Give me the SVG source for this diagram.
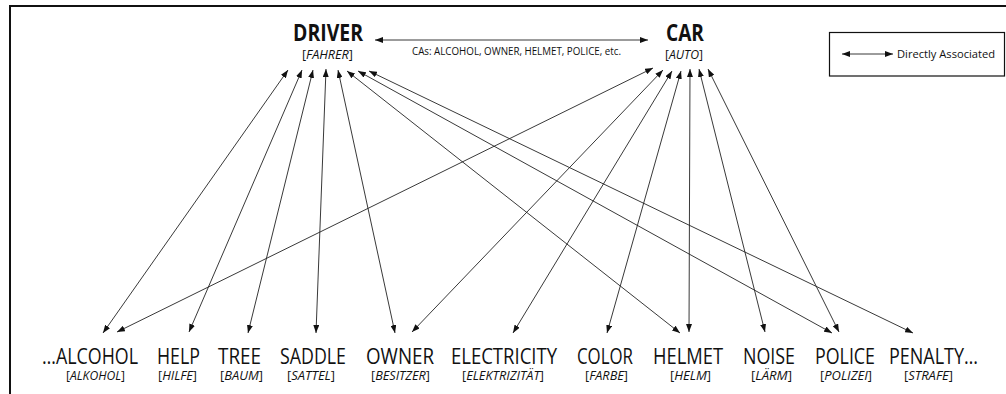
<svg xmlns="http://www.w3.org/2000/svg" width="1006" height="394" viewBox="0 0 1006 394">
<defs>
<marker id="ah" viewBox="0 0 8 6" refX="8" refY="3" markerWidth="8" markerHeight="6" markerUnits="userSpaceOnUse" orient="auto-start-reverse">
<path d="M0,0 L8,3 L0,6 z" fill="#111"/>
</marker>
</defs>
<style>
text{font-family:"Open Sans","Noto Sans","Liberation Sans",sans-serif;fill:#111}
.big{font-size:22px}
.head{font-size:23px;font-weight:bold}
.sub{font-size:12.5px}
.sm{font-size:10px}
.leg{font-size:11px}
.it{font-style:italic}
.c line{stroke:#222;stroke-width:0.9;marker-start:url(#ah);marker-end:url(#ah)}
.frame{stroke:#111;stroke-width:2;fill:none}
</style>
<rect width="1006" height="394" fill="#fff"/>
<path class="frame" d="M10,394 V6 H1006"/>
<g id="legend">
<rect x="829.5" y="32.5" width="175" height="43.5" fill="none" stroke="#111" stroke-width="1.2"/>
<line x1="842" y1="54" x2="893" y2="54" stroke="#222" stroke-width="0.9" marker-start="url(#ah)" marker-end="url(#ah)"/>
<text class="leg" x="897" y="58" textLength="98" lengthAdjust="spacingAndGlyphs">Directly Associated</text>
</g>
<g id="connectors" class="c">
<line x1="375" y1="40" x2="648" y2="40"/>
<line x1="288" y1="70" x2="103" y2="333"/>
<line x1="302" y1="70" x2="189" y2="332"/>
<line x1="313" y1="70" x2="248" y2="333"/>
<line x1="326" y1="69" x2="316" y2="333"/>
<line x1="338" y1="70" x2="395" y2="333"/>
<line x1="347" y1="71" x2="680" y2="333"/>
<line x1="358" y1="71" x2="832" y2="333"/>
<line x1="369" y1="71" x2="913" y2="333"/>
<line x1="653" y1="68" x2="117" y2="332"/>
<line x1="663" y1="70" x2="412" y2="332"/>
<line x1="672" y1="71" x2="513" y2="333"/>
<line x1="681" y1="71" x2="607" y2="333"/>
<line x1="690" y1="69" x2="689" y2="332"/>
<line x1="699" y1="69" x2="765" y2="332"/>
<line x1="708" y1="69" x2="839" y2="332"/>
</g>
<text class="sm" x="412" y="55" textLength="209" lengthAdjust="spacingAndGlyphs">CAs: ALCOHOL, OWNER, HELMET, POLICE, etc.</text>
<g id="driver">
<text class="head" x="293" y="41" textLength="70" lengthAdjust="spacingAndGlyphs">DRIVER</text>
<text class="sub" x="302" y="59" textLength="51" lengthAdjust="spacingAndGlyphs">[<tspan class="it">FAHRER</tspan>]</text>
</g>
<g id="car">
<text class="head" x="666" y="41" textLength="38" lengthAdjust="spacingAndGlyphs">CAR</text>
<text class="sub" x="665" y="59" textLength="38" lengthAdjust="spacingAndGlyphs">[<tspan class="it">AUTO</tspan>]</text>
</g>
<g id="alcohol">
<text class="big" x="42" y="364" textLength="96" lengthAdjust="spacingAndGlyphs">…ALCOHOL</text>
<text class="sub" x="66" y="380" textLength="59" lengthAdjust="spacingAndGlyphs">[<tspan class="it">ALKOHOL</tspan>]</text>
</g>
<g id="help">
<text class="big" x="157" y="364" textLength="43" lengthAdjust="spacingAndGlyphs">HELP</text>
<text class="sub" x="158" y="380" textLength="39" lengthAdjust="spacingAndGlyphs">[<tspan class="it">HILFE</tspan>]</text>
</g>
<g id="tree">
<text class="big" x="218" y="364" textLength="43" lengthAdjust="spacingAndGlyphs">TREE</text>
<text class="sub" x="220" y="380" textLength="43" lengthAdjust="spacingAndGlyphs">[<tspan class="it">BAUM</tspan>]</text>
</g>
<g id="saddle">
<text class="big" x="280" y="364" textLength="66" lengthAdjust="spacingAndGlyphs">SADDLE</text>
<text class="sub" x="287" y="380" textLength="48" lengthAdjust="spacingAndGlyphs">[<tspan class="it">SATTEL</tspan>]</text>
</g>
<g id="owner">
<text class="big" x="366" y="364" textLength="68" lengthAdjust="spacingAndGlyphs">OWNER</text>
<text class="sub" x="371" y="380" textLength="59" lengthAdjust="spacingAndGlyphs">[<tspan class="it">BESITZER</tspan>]</text>
</g>
<g id="electricity">
<text class="big" x="451" y="364" textLength="106" lengthAdjust="spacingAndGlyphs">ELECTRICITY</text>
<text class="sub" x="462" y="380" textLength="82" lengthAdjust="spacingAndGlyphs">[<tspan class="it">ELEKTRIZITÄT</tspan>]</text>
</g>
<g id="color">
<text class="big" x="577" y="364" textLength="56" lengthAdjust="spacingAndGlyphs">COLOR</text>
<text class="sub" x="585" y="380" textLength="43" lengthAdjust="spacingAndGlyphs">[<tspan class="it">FARBE</tspan>]</text>
</g>
<g id="helmet">
<text class="big" x="653" y="364" textLength="70" lengthAdjust="spacingAndGlyphs">HELMET</text>
<text class="sub" x="670" y="380" textLength="41" lengthAdjust="spacingAndGlyphs">[<tspan class="it">HELM</tspan>]</text>
</g>
<g id="noise">
<text class="big" x="743" y="364" textLength="52" lengthAdjust="spacingAndGlyphs">NOISE</text>
<text class="sub" x="751" y="380" textLength="41" lengthAdjust="spacingAndGlyphs">[<tspan class="it">LÄRM</tspan>]</text>
</g>
<g id="police">
<text class="big" x="815" y="364" textLength="60" lengthAdjust="spacingAndGlyphs">POLICE</text>
<text class="sub" x="820" y="380" textLength="52" lengthAdjust="spacingAndGlyphs">[<tspan class="it">POLIZEI</tspan>]</text>
</g>
<g id="penalty">
<text class="big" x="889" y="364" textLength="89" lengthAdjust="spacingAndGlyphs">PENALTY…</text>
<text class="sub" x="904" y="380" textLength="49" lengthAdjust="spacingAndGlyphs">[<tspan class="it">STRAFE</tspan>]</text>
</g>
</svg>
